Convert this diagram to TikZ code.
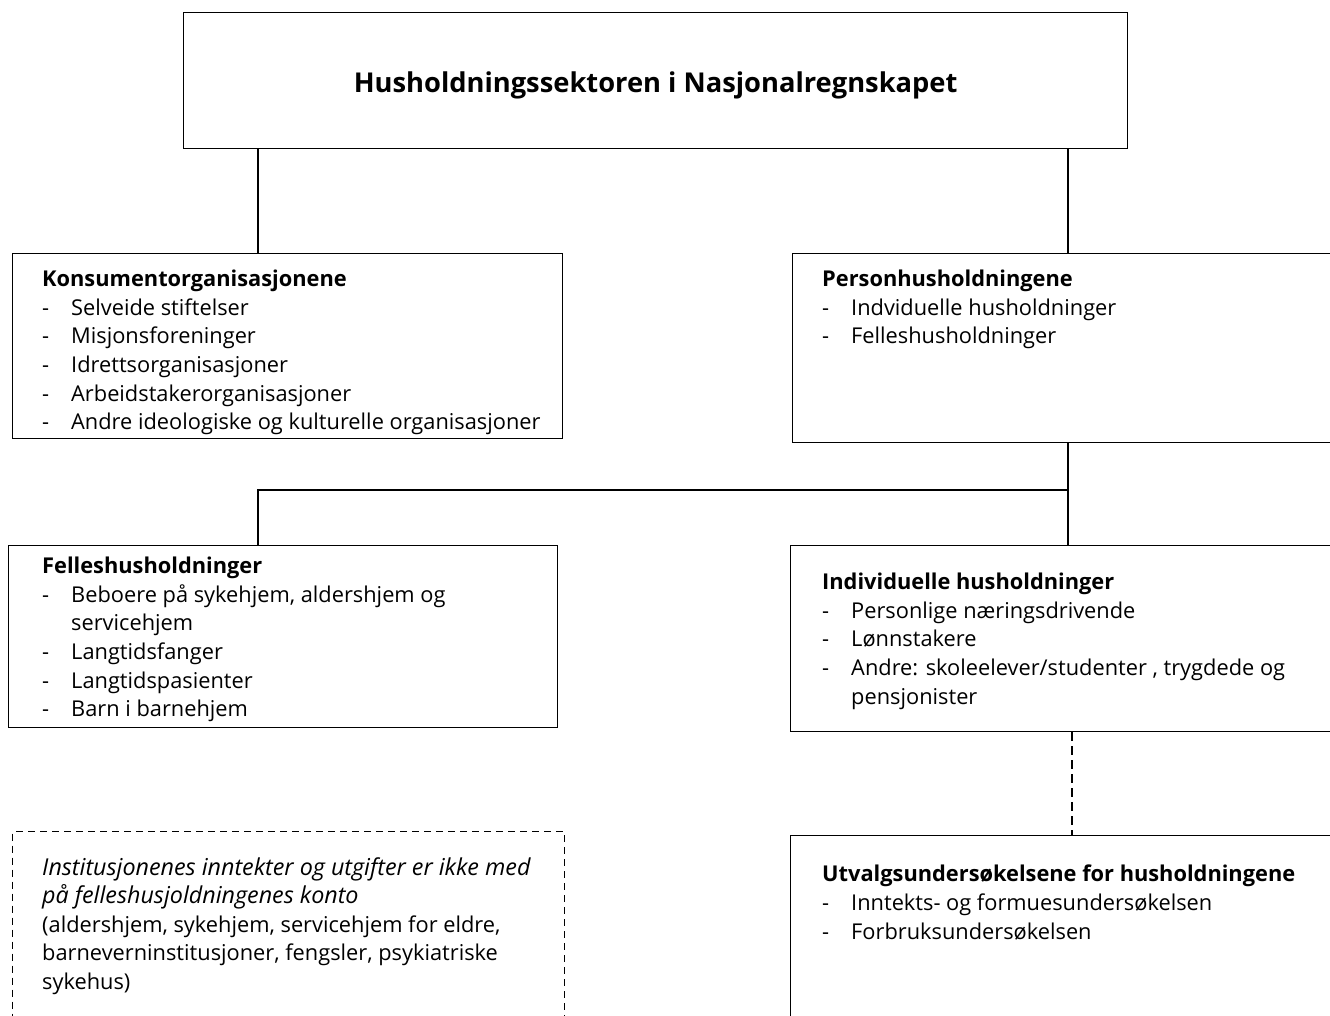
\documentclass[tikz,border=0pt]{standalone}
\usepackage{fontspec}
\setmainfont{Open Sans}
\newcommand{\itm}[1]{\makebox[29pt][l]{-}#1}
\newcommand{\cnt}[1]{\hspace*{29pt}#1}
\newcommand{\itl}[1]{{\fontsize{23.3}{28.6}\selectfont\itshape #1}}
\begin{document}
\begin{tikzpicture}[x=1pt,y=-1pt,
  box/.style={draw,line width=1.3pt,rectangle,inner sep=0pt,anchor=north west},
  dbox/.style={box,dash pattern=on 7pt off 5pt},
  txt/.style={anchor=north west,inner sep=0pt,align=left,font=\fontsize{21.8}{28.6}\selectfont},
  link/.style={line width=1.3pt},
  dlink/.style={line width=1.3pt,dash pattern=on 9pt off 5pt}]
\useasboundingbox (0,0) rectangle (1330,1016);
\clip (0,0) rectangle (1330,1016);
% boxes
\node[box,minimum width=944pt,minimum height=136pt] (top) at (183,12) {};
\node[font=\fontsize{27.3}{30}\selectfont\bfseries,yshift=-5pt] at (top.center) {Husholdningssektoren i Nasjonalregnskapet};
\node[box,minimum width=550pt,minimum height=185pt] (kons) at (12,253) {};
\node[box,minimum width=600pt,minimum height=189pt] (pers) at (792,253) {};
\node[box,minimum width=549pt,minimum height=182pt] (fell) at (8,545) {};
\node[box,minimum width=600pt,minimum height=186pt] (indv) at (790,545) {};
\node[box,minimum width=600pt,minimum height=250pt] (utv) at (790,835) {};
\node[dbox,minimum width=552pt,minimum height=250pt] (inst) at (12,831) {};
% texts
\node[txt] at (42,270) {\textbf{Konsumentorganisasjonene}\\ \itm{Selveide stiftelser}\\ \itm{Misjonsforeninger}\\ \itm{Idrettsorganisasjoner}\\ \itm{Arbeidstakerorganisasjoner}\\ \itm{Andre ideologiske og kulturelle organisasjoner}};
\node[txt] at (822,270) {\textbf{Personhusholdningene}\\ \itm{Indviduelle husholdninger}\\ \itm{Felleshusholdninger}};
\node[txt] at (42,557) {\textbf{Felleshusholdninger}\\ \itm{Beboere på sykehjem, aldershjem og}\\ \cnt{servicehjem}\\ \itm{Langtidsfanger}\\ \itm{Langtidspasienter}\\ \itm{Barn i barnehjem}};
\node[txt] at (822,573) {\textbf{Individuelle husholdninger}\\ \itm{Personlige næringsdrivende}\\ \itm{Lønnstakere}\\ \itm{Andre: skoleelever/studenter , trygdede og}\\ \cnt{pensjonister}};
\node[txt] at (822,865) {\textbf{Utvalgsundersøkelsene for husholdningene}\\ \itm{Inntekts- og formuesundersøkelsen}\\ \itm{Forbruksundersøkelsen}};
\node[txt] at (42,857) {\itl{Institusjonenes inntekter og utgifter er ikke med}\\ \itl{på felleshusjoldningenes konto}\\ (aldershjem, sykehjem, servicehjem for eldre,\\ barneverninstitusjoner, fengsler, psykiatriske\\ sykehus)};
% connectors
\draw[link] (top.south -| 258,0) -- (kons.north -| 258,0);
\draw[link] (top.south -| 1068,0) -- (pers.north -| 1068,0);
\coordinate (j) at (1068,490);
\draw[link] (pers.south -| j) -- (j);
\draw[link] (j) -- (j -| 258,0) -- (fell.north -| 258,0);
\draw[link] (j) -- (indv.north -| j);
\draw[dlink] (indv.south -| 1072,0) -- (utv.north -| 1072,0);
\end{tikzpicture}
\end{document}
